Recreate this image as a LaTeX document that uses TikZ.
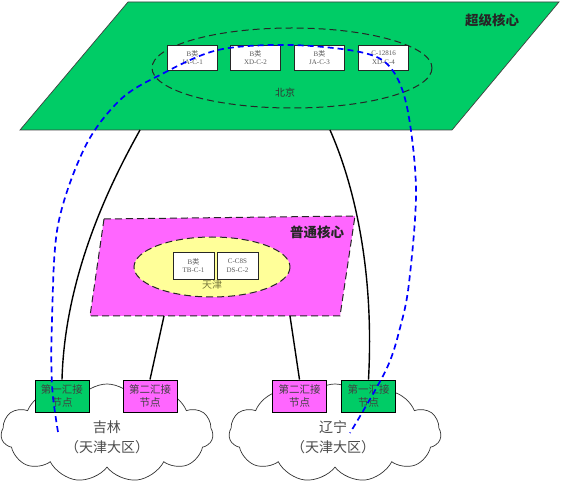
\documentclass[tikz,border=0pt]{standalone}
\usepackage{fontspec}
\setmainfont{Liberation Serif}
\newfontfamily\cjk{Noto Sans CJK SC}
\usetikzlibrary{shapes.symbols}
\definecolor{gcol}{RGB}{0,204,102}
\definecolor{mcol}{RGB}{255,102,255}
\definecolor{ycol}{RGB}{255,255,153}
\definecolor{olivetext}{RGB}{120,120,60}
\begin{document}
\begin{tikzpicture}[x=1pt,y=-1pt,
  devbox/.style={draw=black!85, fill=white, line width=0.9pt, minimum width=50pt, minimum height=25pt,
    inner sep=0pt, align=center, font=\fontsize{7}{8.5}\selectfont, text=black!65},
  tjbox/.style={devbox, minimum width=41pt, minimum height=27pt},
  hubbox/.style={draw=black, line width=0.9pt, minimum width=54pt, minimum height=32pt, inner sep=0pt,
    align=center, font=\cjk\fontsize{10.5}{13}\selectfont, text=black!75},
  coredash/.style={draw=black!85, line width=1pt, dash pattern=on 7pt off 4pt},
  link/.style={draw=black, line width=1.4pt},
  blueline/.style={draw=blue, line width=1.7pt, dash pattern=on 6pt off 4pt},
  cloudnode/.style={cloud, draw=black!80, line width=0.7pt, fill=white, cloud puffs=11, cloud puff arc=115,
    aspect=2.2, minimum width=212pt, minimum height=98pt, inner sep=0pt},
  cloudtext/.style={align=center, font=\cjk\fontsize{14}{20}\selectfont, text=black!70},
  corelabel/.style={font=\cjk\bfseries\fontsize{13.5}{16}\selectfont, text=black!85}
]
\useasboundingbox (0,0) rectangle (563,486);

% super core
\draw[fill=gcol, draw=black!75, line width=0.7pt] (128,2) -- (559,2) -- (452,130) -- (20,130) -- cycle;
\node[corelabel] (superlbl) at (492,20) {超级核心};
\draw[coredash] (292,68) ellipse [x radius=140, y radius=40];
\node[font=\cjk\fontsize{10}{12}\selectfont, text=black!80] (bj) at (285,93) {北京};
\node[devbox] (b1) at (192.5,57.5) {B{\cjk 类}\\JA-C-1};
\node[devbox] (b2) at (255.5,57.5) {B{\cjk 类}\\XD-C-2};
\node[devbox] (b3) at (319.5,57.5) {B{\cjk 类}\\JA-C-3};
\node[devbox] (b4) at (383.5,57.5) {C-12816\\XD-C-4};

% ordinary core
\draw[fill=mcol, coredash] (104,219) -- (355,216) -- (340,316) -- (90,316) -- cycle;
\node[corelabel] (ordlbl) at (317,232) {普通核心};
\draw[fill=ycol, coredash] (212,267) ellipse [x radius=78, y radius=30];
\node[tjbox] (t1) at (193.5,265.5) {B{\cjk 类}\\TB-C-1};
\node[tjbox] (t2) at (237.5,265.5) {C-C8S\\DS-C-2};
\node[font=\cjk\fontsize{10}{12}\selectfont, text=olivetext] (tj) at (212,285) {天津};

% clouds
\node[cloudnode] (c1) at (107,433) {};
\node[cloudnode] (c2) at (335,433) {};
\node[cloudtext] (c1t) at (107,437) {吉林\\（天津大区）};
\node[cloudtext] (c2t) at (333,437) {辽宁\\（天津大区）};

% hub boxes
\node[hubbox, fill=gcol] (g1) at (62,396) {第一汇接\\节点};
\node[hubbox, fill=mcol] (m1) at (150,396) {第二汇接\\节点};
\node[hubbox, fill=mcol] (m2) at (299.5,396) {第二汇接\\节点};
\node[hubbox, fill=gcol] (g2) at (368.5,396) {第一汇接\\节点};

% links
\coordinate (sl) at (140,130);
\coordinate (sr) at (330,130);
\coordinate (ol) at (164,316);
\coordinate (or) at (290,316);
\draw[link] (sl) .. controls (115,175) and (65,270) .. (g1.north);
\draw[link] (sr) .. controls (350,175) and (375,260) .. (g2.north);
\draw[link] (ol) -- (m1.north);
\draw[link] (or) -- (m2.north);

% blue dashed path
\coordinate (bs) at (58,432);
\coordinate (be) at (350,433);
\draw[blueline] plot[smooth, tension=0.55] coordinates {(bs) (52,385) (52,320) (58,225) (85,147) (120,100) (160,75) (218,50) (290,45) (360,52) (390,67) (407,107) (416,190) (409,283) (400,328) (386,370) (be)};
\end{tikzpicture}
\end{document}
